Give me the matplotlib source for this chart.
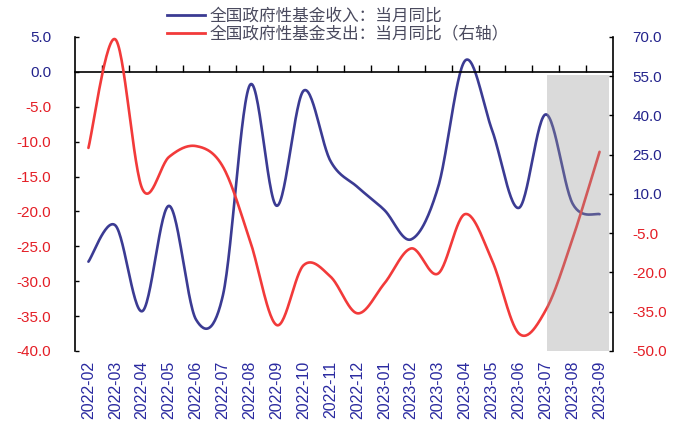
import numpy as np
import matplotlib
matplotlib.use('Agg')
import matplotlib.pyplot as plt
from matplotlib.lines import Line2D

plt.rcParams['font.family'] = ['Liberation Sans', 'Noto Sans CJK SC', 'DejaVu Sans']

months = ['2022-02', '2022-03', '2022-04', '2022-05', '2022-06', '2022-07',
          '2022-08', '2022-09', '2022-10', '2022-11', '2022-12', '2023-01',
          '2023-02', '2023-03', '2023-04', '2023-05', '2023-06', '2023-07',
          '2023-08', '2023-09']
# fund revenue yoy (left axis, %)
income_yoy = [-27.2, -22.0, -34.3, -19.2, -35.5, -32.0, -1.9, -19.2, -2.7, -12.8,
              -16.5, -19.8, -24.0, -16.5, 1.6, -8.3, -19.5, -6.1, -18.9, -20.4]
# fund expenditure yoy (right axis, %)
expense_yoy = [27.6, 69.1, 12.0, 24.2, 28.3, 20.4, -7.6, -40.1, -17.2, -21.6,
               -35.6, -24.2, -10.8, -20.4, 2.3, -15.3, -43.3, -34.4, -7.0, 26.1]
income_label = '全国政府性基金收入：当月同比'
expense_label = '全国政府性基金支出：当月同比（右轴）'

NAVY = '#23238c'
RED = '#e41e26'
BLUE_LINE = '#3b3b93'
RED_LINE = '#f23a3a'


def smooth(y, n=30):
    # Bezier smoothing through every point (same look as "smoothed line" charts)
    x = np.arange(len(y), dtype=float)
    p = np.column_stack([x, np.asarray(y, dtype=float)])
    p = np.vstack([p[0], p, p[-1]])
    t = np.linspace(0, 1, n, endpoint=False)[:, None]
    segs = []
    for i in range(1, len(p) - 2):
        p0, p1, p2, p3 = p[i - 1], p[i], p[i + 1], p[i + 2]
        c1 = p1 + (p2 - p0) / 6
        c2 = p2 - (p3 - p1) / 6
        segs.append((1 - t) ** 3 * p1 + 3 * (1 - t) ** 2 * t * c1
                    + 3 * (1 - t) * t ** 2 * c2 + t ** 3 * p2)
    segs.append(p[-2][None, :])
    pts = np.vstack(segs)
    return pts[:, 0], pts[:, 1]


fig = plt.figure(figsize=(6.86, 4.32), dpi=100)
ax = fig.add_axes([0.1093, 0.1875, 0.7843, 0.727])
ax2 = ax.twinx()

xs, ys = smooth(income_yoy)
ax.plot(xs, ys, color=BLUE_LINE, lw=1.9, solid_capstyle='round')
xs, ys = smooth(expense_yoy)
ax2.plot(xs, ys, color=RED_LINE, lw=1.9, solid_capstyle='round')

# forecast window shading
ax2.axvspan(17.05, 19.35, ymin=0, ymax=0.879, color='#969696', alpha=0.35,
            lw=0, zorder=5)

n = len(months)
ax.set_xlim(-0.5, n - 0.5)
ax.set_ylim(-40, 5)
ax2.set_ylim(-50, 70)

left_ticks = np.arange(-40, 5.1, 5)
ax.set_yticks(left_ticks)
ax.set_yticklabels([f'{v:.1f}' for v in left_ticks], fontsize=11)
for lab, v in zip(ax.get_yticklabels(), left_ticks):
    lab.set_color(NAVY if v >= 0 else RED)

right_ticks = np.arange(-50, 70.1, 15)
ax2.set_yticks(right_ticks)
ax2.set_yticklabels([f'{v:.1f}' for v in right_ticks], fontsize=11)
for lab, v in zip(ax2.get_yticklabels(), right_ticks):
    lab.set_color(NAVY if v >= 0 else RED)

ax.tick_params(axis='y', direction='in', length=3, width=1, pad=17)
ax2.tick_params(axis='y', direction='in', length=3, width=1, pad=14)

# category axis crosses at zero, ticks between months
ax.spines['bottom'].set_position(('data', 0))
ax.set_xticks(np.arange(0.5, n - 1, 1))
ax.tick_params(axis='x', direction='in', length=5, width=1, labelbottom=False)

sec = ax.secondary_xaxis('bottom')
sec.set_xticks(np.arange(n))
sec.set_xticklabels(months, rotation=90, fontsize=11.5, color='#2a2aa0')
sec.tick_params(length=0, pad=7)
sec.spines['bottom'].set_visible(False)

for s in ['top', 'right']:
    ax.spines[s].set_visible(False)
for s in ['top', 'bottom', 'left']:
    ax2.spines[s].set_visible(False)
for sp in [ax.spines['left'], ax.spines['bottom'], ax2.spines['right']]:
    sp.set_linewidth(1.2)

handles = [Line2D([], [], color=BLUE_LINE, lw=2),
           Line2D([], [], color=RED_LINE, lw=2)]
fig.legend(handles, [income_label, expense_label], loc='upper left',
           bbox_to_anchor=(0.243, 0.982), frameon=False, borderpad=0,
           borderaxespad=0, handlelength=2.3, handletextpad=0.25,
           labelspacing=0.05, labelcolor='#4a4a5e',
           prop={'family': ['Noto Sans CJK SC', 'DejaVu Sans'], 'size': 12})

fig.savefig('out.png', dpi=100)
